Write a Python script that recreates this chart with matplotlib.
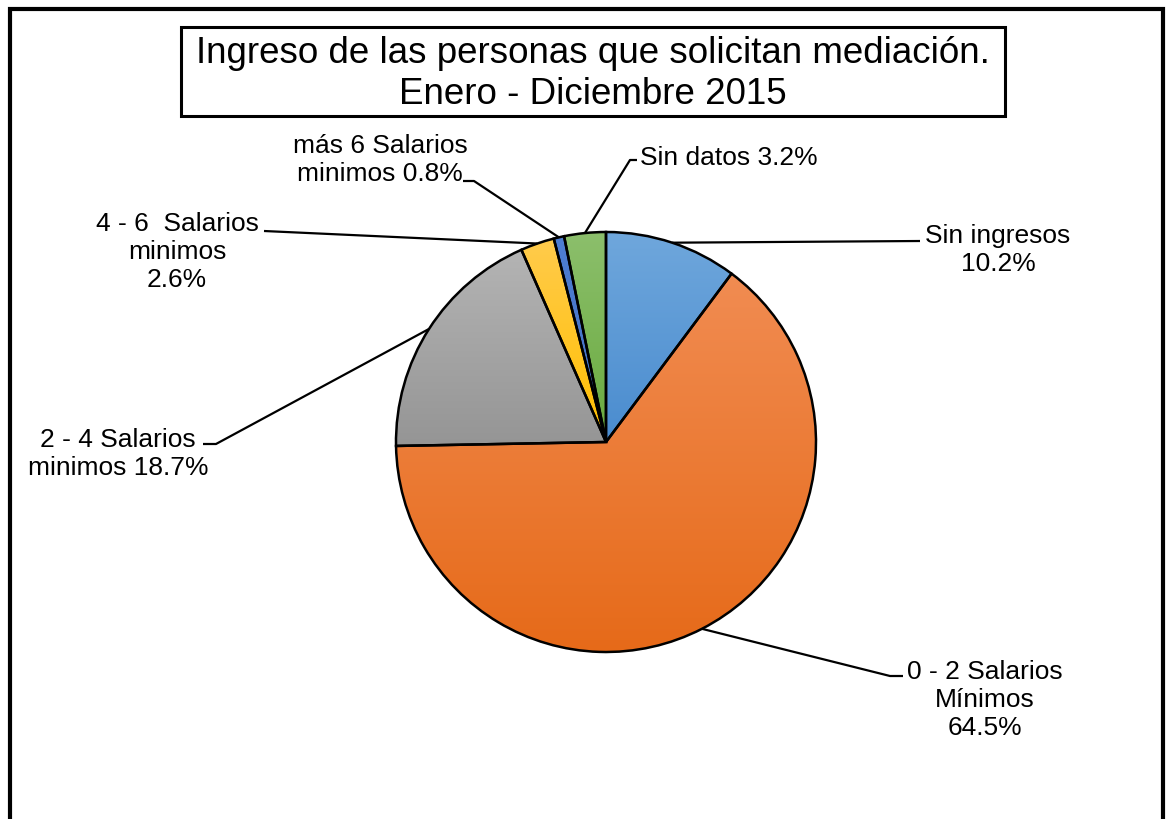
import numpy as np
import matplotlib
matplotlib.use("Agg")
import matplotlib.pyplot as plt
from matplotlib.colors import LinearSegmentedColormap
from matplotlib.patches import Rectangle

plt.rcParams["font.family"] = ["Liberation Sans", "DejaVu Sans"]

W, H = 1169, 820

TITLE = "Ingreso de las personas que solicitan mediación.\nEnero - Diciembre 2015"
LABELS = ["Sin ingresos\n10.2%", "0 - 2 Salarios\nMínimos\n64.5%",
          "2 - 4 Salarios\nminimos 18.7%", "4 - 6  Salarios\nminimos\n2.6%",
          "más 6 Salarios\nminimos 0.8%", "Sin datos 3.2%"]
VALUES = [10.2, 64.5, 18.7, 2.6, 0.8, 3.2]
# (top colour, bottom colour) of each slice gradient
COLORS = [("#6fa7dc", "#4a8ccf"), ("#f18c52", "#e66a19"), ("#b4b4b4", "#959595"),
          ("#ffcb4c", "#ffbf00"), ("#4e7ed2", "#4470c2"), ("#8cbf6c", "#69aa3e")]

# label layout, in pixels: text anchor, elbow point, alignment
LAB_POS = [(998, 250, "center"), (985, 700, "center"), (118, 454, "center"),
           (177, 252, "center"), (380, 160, "center"), (640, 158, "left")]
ELBOW = [(920, 242), (903, 677), (203, 445), (264, 232), (463, 182), (637, 161)]
KNEE = [None, (890, 677), (216, 445), None, (474, 182), (630, 161)]

CX, CY, R = 606, 443, 210


def py(y):
    return H - y


fig = plt.figure(figsize=(W / 100, H / 100), dpi=100)
ax = fig.add_axes([0, 0, 1, 1])

wedges, _ = ax.pie(VALUES, startangle=90, counterclock=False,
                   center=(CX, py(CY)), radius=R,
                   wedgeprops=dict(edgecolor="black", linewidth=1.8, facecolor="none"))

grad = np.linspace(0, 1, 256).reshape(-1, 1)
for w, (top, bot) in zip(wedges, COLORS):
    w.set_zorder(3)
    w.set_facecolor("none")
    bb = w.get_path().get_extents()
    cmap = LinearSegmentedColormap.from_list("g", [top, bot])
    im = ax.imshow(grad, cmap=cmap, aspect="auto", origin="upper",
                   extent=(bb.x0, bb.x1, bb.y0, bb.y1), zorder=2,
                   interpolation="bilinear")
    im.set_clip_path(w)

# leader lines + labels
for w, lab, (tx, ty, ha), el, kn in zip(wedges, LABELS, LAB_POS, ELBOW, KNEE):
    mid = np.deg2rad((w.theta1 + w.theta2) / 2)
    x0 = CX + R * np.cos(mid)
    y0 = py(CY) + R * np.sin(mid)
    xs, ys = [x0], [y0]
    if kn is not None:
        xs.append(kn[0]); ys.append(py(kn[1]))
    xs.append(el[0]); ys.append(py(el[1]))
    ax.plot(xs, ys, color="black", lw=1.6, zorder=4, solid_capstyle="butt")
    ax.text(tx, py(ty), lab, ha=ha, va="center", fontsize=19,
            linespacing=1.23, zorder=5)

# title box
ax.add_patch(Rectangle((181, py(117)), 824, 89, facecolor="white",
                       edgecolor="black", lw=2.2, zorder=5))
ax.text(593, py(74), TITLE, ha="center", va="center", fontsize=26.5,
        linespacing=1.24, zorder=6)

# outer chart frame (bottom edge is cut off)
ax.plot([10, 10, 1163, 1163], [0, py(10), py(10), 0], color="black",
        lw=3, zorder=6, solid_joinstyle="miter")

ax.set_xlim(0, W)
ax.set_ylim(0, H)
ax.set_aspect("auto")
ax.axis("off")

fig.savefig("out.png", dpi=100, facecolor="white")
